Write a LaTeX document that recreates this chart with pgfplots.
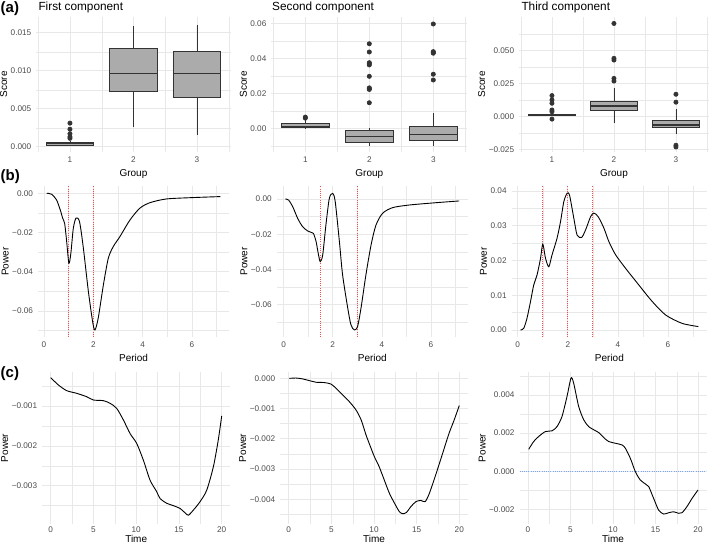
\documentclass[border=0pt]{standalone}
\usepackage{pgfplots}
\pgfplotsset{compat=1.18}
\usepgfplotslibrary{statistics}
\usepackage{fontspec}
\setmainfont{Liberation Sans}
\definecolor{gridc}{RGB}{232,232,232}
\definecolor{tickc}{RGB}{77,77,77}
\definecolor{boxfill}{RGB}{171,171,171}
\definecolor{boxdraw}{RGB}{51,51,51}
\definecolor{hlinec}{RGB}{120,165,245}
\definecolor{vlinec}{RGB}{245,75,75}
\pgfplotsset{
  gg/.style={
    scale only axis,
    scaled x ticks=false, scaled y ticks=false,
    axis line style={draw=none},
    major tick length=0pt, minor tick length=0pt,
    grid=both,
    major grid style={line width=0.7pt, draw=gridc},
    minor grid style={line width=0.35pt, draw=gridc},
    tick label style={font=\fontsize{8.2}{9}\selectfont, text=tickc},
    yticklabel style={xshift=-1.5pt},
    xticklabel style={yshift=-1pt},
    label style={font=\fontsize{10}{12}\selectfont},
    ylabel style={inner sep=1pt, yshift=-1pt},
    anchor=south west,
  },
  ggbox/.style={gg, xmin=0.47, xmax=3.53, xtick={1,2,3}, xticklabels={1,2,3},
    minor xtick={0.5,1.5,2.5,3.5}, xlabel={Group}, ylabel={Score},
    boxplot/draw direction=y,
    boxplot/every median/.style={line width=1.4pt},
    boxplot/box extend=0.75, boxplot/whisker extend=0},
  r3/.style={xticklabel style={yshift=1.5pt}, xlabel style={yshift=4pt}},
  bx/.style={draw=boxdraw, fill=boxfill, line width=0.7pt, mark=*, mark size=2.1pt,
    mark options={draw=boxdraw, fill=boxdraw}},
  curve/.style={draw=black, line width=0.9pt, smooth, tension=0.45},
  vred/.style={draw=vlinec, line width=1.1pt, dash pattern=on 1pt off 1.2pt},
  hblue/.style={draw=hlinec, line width=1.1pt, dash pattern=on 1pt off 1.2pt},
}
\begin{document}
\begin{tikzpicture}
\path[use as bounding box] (0,0) rectangle (709pt,545pt);
% ---------------- row (a)  (scores below are given in units of 0.001)
\node[anchor=base west, inner sep=0, font=\bfseries\fontsize{15}{15}\selectfont] at (0.5pt,532.5pt) {(a)};
\node[anchor=base west, inner sep=0, font=\fontsize{11.8}{12}\selectfont] at (38.3pt,534.3pt) {First component};
\node[anchor=base west, inner sep=0, font=\fontsize{11.8}{12}\selectfont] at (272pt,534.3pt) {Second component};
\node[anchor=base west, inner sep=0, font=\fontsize{11.8}{12}\selectfont] at (521.3pt,534.3pt) {Third component};

\begin{axis}[ggbox, at={(36.3pt,393pt)}, width=194.3pt, height=135pt,
  ymin=-0.697, ymax=17.066, ytick={0,5,10,15},
  yticklabels={0.000,0.005,0.010,0.015}, minor ytick={2.5,7.5,12.5}]
\addplot[bx, boxplot prepared={draw position=1, lower whisker=0.1, lower quartile=0.2, median=0.4, upper quartile=0.6, upper whisker=0.8}]
  table[row sep=\\, y index=0] {data\\ 1.1\\ 1.3\\ 1.7\\ 2.3\\ 3.1\\};
\addplot[bx, boxplot prepared={draw position=2, lower whisker=2.6, lower quartile=7.3, median=9.65, upper quartile=12.96, upper whisker=15.9}]
  coordinates {};
\addplot[bx, boxplot prepared={draw position=3, lower whisker=1.5, lower quartile=6.5, median=9.6, upper quartile=12.5, upper whisker=16.0}]
  coordinates {};
\end{axis}

\begin{axis}[ggbox, at={(271.4pt,393pt)}, width=195.8pt, height=135pt,
  ymin=-13.54, ymax=63.6, ytick={0,20,40,60},
  yticklabels={0.00,0.02,0.04,0.06}, minor ytick={-10,10,30,50}]
\addplot[bx, boxplot prepared={draw position=1, lower whisker=0.0, lower quartile=0.3, median=0.9, upper quartile=2.9, upper whisker=4.5}]
  table[row sep=\\, y index=0] {data\\ 5.8\\ 6.4\\};
\addplot[bx, boxplot prepared={draw position=2, lower whisker=-9.9, lower quartile=-8, median=-4.8, upper quartile=-1, upper whisker=0.4}]
  table[row sep=\\, y index=0] {data\\ 14.6\\ 22.2\\ 22.6\\ 23.1\\ 29.7\\ 36.2\\ 36.8\\ 37.5\\ 43.6\\ 48.3\\};
\addplot[bx, boxplot prepared={draw position=3, lower whisker=-9.9, lower quartile=-6.7, median=-3.4, upper quartile=0.9, upper whisker=8.6}]
  table[row sep=\\, y index=0] {data\\ 27.6\\ 30.9\\ 42.9\\ 43.4\\ 43.8\\ 59.6\\};
\end{axis}

\begin{axis}[ggbox, at={(519.1pt,393pt)}, width=189.7pt, height=135pt,
  ymin=-26.7, ymax=75.5, ytick={-25,0,25,50},
  yticklabels={−0.025,0.000,0.025,0.050}, minor ytick={-12.5,12.5,37.5,62.5}]
\addplot[bx, boxplot prepared={draw position=1, lower whisker=0.2, lower quartile=1, median=1.5, upper quartile=2, upper whisker=3}]
  table[row sep=\\, y index=0] {data\\ -1.8\\ 3.8\\ 5.1\\ 10.2\\ 12.7\\ 16\\};
\addplot[bx, boxplot prepared={draw position=2, lower whisker=-5, lower quartile=4.6, median=8.1, upper quartile=11.7, upper whisker=21.5}]
  table[row sep=\\, y index=0] {data\\ 27\\ 29\\ 42.9\\ 44.2\\ 70.6\\};
\addplot[bx, boxplot prepared={draw position=3, lower whisker=-13.4, lower quartile=-8.4, median=-6.3, upper quartile=-3, upper whisker=5.6}]
  table[row sep=\\, y index=0] {data\\ -22.9\\ -21.6\\ 11\\ 17\\};
\end{axis}

% ---------------- row (b)
\node[anchor=base west, inner sep=0, font=\bfseries\fontsize{15}{15}\selectfont] at (0.5pt,364.5pt) {(b)};

\begin{axis}[gg, at={(38pt,208pt)}, width=191.1pt, height=151pt,
  xmin=-0.243, xmax=7.51, xtick={0,2,4,6}, xticklabels={0,2,4,6}, minor xtick={1,3,5,7},
  ymin=-0.0733, ymax=0.0037, ytick={-0.06,-0.04,-0.02,0}, yticklabels={−0.06,−0.04,−0.02,0.00},
  minor ytick={-0.07,-0.05,-0.03,-0.01}, xlabel={Period}, ylabel={Power}]
\addplot[vred] coordinates {(1,-0.0733) (1,0.0037)};
\addplot[vred] coordinates {(2,-0.0733) (2,0.0037)};
\addplot[curve] coordinates {(0.11,0) (0.31,-0.0005) (0.51,-0.0034) (0.66,-0.0085) (0.76,-0.0128) (0.84,-0.0155) (0.92,-0.0246) (1.01,-0.0357) (1.09,-0.0306) (1.19,-0.0178) (1.3,-0.0127) (1.44,-0.0144) (1.59,-0.0272) (1.80,-0.050) (1.98,-0.066) (2.07,-0.0697) (2.2,-0.0637) (2.41,-0.0467) (2.61,-0.0331) (2.81,-0.0272) (3.08,-0.0221) (3.49,-0.0136) (3.89,-0.0076) (4.30,-0.0048) (4.97,-0.0029) (6.05,-0.0022) (7.16,-0.0017)};
\end{axis}

\begin{axis}[gg, at={(276.7pt,208pt)}, width=191.2pt, height=151pt,
  xmin=-0.284, xmax=7.504, xtick={0,2,4,6}, xticklabels={0,2,4,6}, minor xtick={1,3,5,7},
  ymin=-0.0784, ymax=0.0074, ytick={-0.06,-0.04,-0.02,0}, yticklabels={−0.06,−0.04,−0.02,0.00},
  minor ytick={-0.07,-0.05,-0.03,-0.01}, xlabel={Period}, ylabel={Power}]
\addplot[vred] coordinates {(1.5,-0.0784) (1.5,0.0074)};
\addplot[vred] coordinates {(3,-0.0784) (3,0.0074)};
\addplot[curve] coordinates {(0.07,0) (0.2,-0.0006) (0.37,-0.0044) (0.57,-0.011) (0.77,-0.0157) (0.98,-0.0182) (1.11,-0.0189) (1.21,-0.0195) (1.32,-0.0242) (1.42,-0.0318) (1.49,-0.0356) (1.59,-0.0318) (1.72,-0.0148) (1.86,0.0004) (2.0,0.0032) (2.1,-0.0015) (2.27,-0.0242) (2.40,-0.0431) (2.61,-0.062) (2.74,-0.0715) (2.88,-0.0744) (3.01,-0.0725) (3.15,-0.062) (3.35,-0.0431) (3.56,-0.0261) (3.76,-0.0148) (4.03,-0.0081) (4.44,-0.0049) (5.12,-0.0034) (6.2,-0.0021) (7.15,-0.0011)};
\end{axis}

\begin{axis}[gg, at={(511.6pt,208pt)}, width=195.6pt, height=151pt,
  xmin=-0.245, xmax=7.565, xtick={0,2,4,6}, xticklabels={0,2,4,6}, minor xtick={1,3,5,7},
  ymin=-0.002, ymax=0.0414, ytick={0,0.01,0.02,0.03,0.04}, yticklabels={0.00,0.01,0.02,0.03,0.04},
  minor ytick={0.005,0.015,0.025,0.035}, xlabel={Period}, ylabel={Power}]
\addplot[vred] coordinates {(1,-0.002) (1,0.0414)};
\addplot[vred] coordinates {(2,-0.002) (2,0.0414)};
\addplot[vred] coordinates {(3,-0.002) (3,0.0414)};
\addplot[curve] coordinates {(0.11,0) (0.24,0.0005) (0.37,0.0034) (0.51,0.0082) (0.64,0.013) (0.77,0.0158) (0.91,0.0206) (1.0,0.0247) (1.11,0.0206) (1.24,0.0182) (1.37,0.0216) (1.57,0.0264) (1.71,0.0312) (1.84,0.0369) (1.97,0.0393) (2.07,0.0387) (2.24,0.0321) (2.37,0.0273) (2.55,0.0266) (2.71,0.0288) (2.91,0.0326) (3.04,0.0336) (3.21,0.0326) (3.44,0.0293) (3.64,0.0254) (3.91,0.0216) (4.31,0.0177) (4.84,0.0129) (5.37,0.0082) (5.91,0.0043) (6.57,0.0019) (7.21,0.001)};
\end{axis}

% ---------------- row (c)
\node[anchor=base west, inner sep=0, font=\bfseries\fontsize{15}{15}\selectfont] at (0.5pt,167.3pt) {(c)};

\begin{axis}[gg, r3, at={(42.15pt,21pt)}, width=188.1pt, height=152pt,
  xmin=-1, xmax=21, xtick={0,5,10,15,20}, xticklabels={0,5,10,15,20}, minor xtick={2.5,7.5,12.5,17.5},
  ymin=-0.00396, ymax=-0.000147, ytick={-0.003,-0.002,-0.001}, yticklabels={−0.003,−0.002,−0.001},
  minor ytick={-0.0035,-0.0025,-0.0015,-0.0005}, xlabel={Time}, ylabel={Power}]
\addplot[curve] coordinates {(0,-0.000289) (0.9,-0.000473) (1.87,-0.000615) (3.04,-0.000682) (4.2,-0.000766) (5,-0.00085) (6.16,-0.000866) (6.94,-0.000933) (7.72,-0.00106) (8.5,-0.00135) (9.28,-0.00169) (10.06,-0.00194) (10.84,-0.00236) (11.62,-0.00286) (12.4,-0.00315) (12.79,-0.00332) (13.57,-0.00344) (14.35,-0.0035) (15.13,-0.00357) (15.71,-0.00368) (16.1,-0.00374) (16.69,-0.00361) (17.47,-0.0034) (18.25,-0.00311) (19.03,-0.00252) (19.6,-0.00185) (20.0,-0.00125)};
\end{axis}

\begin{axis}[gg, r3, at={(280.2pt,21pt)}, width=187.6pt, height=152pt,
  xmin=-1, xmax=21, xtick={0,5,10,15,20}, xticklabels={0,5,10,15,20}, minor xtick={2.5,7.5,12.5,17.5},
  ymin=-0.00482, ymax=0.00021, ytick={-0.004,-0.003,-0.002,-0.001,0}, yticklabels={−0.004,−0.003,−0.002,−0.001,0.000},
  minor ytick={-0.0045,-0.0035,-0.0025,-0.0015,-0.0005}, xlabel={Time}, ylabel={Power}]
\addplot[curve] coordinates {(0.08,0) (0.86,0.00001) (1.64,-0.00002) (2.62,-0.00009) (3.2,-0.00013) (4.18,-0.00014) (4.96,-0.00019) (5.55,-0.00033) (6.33,-0.00055) (7.1,-0.00077) (7.9,-0.00105) (8.5,-0.00138) (9.06,-0.00187) (9.65,-0.00231) (10.04,-0.00259) (10.6,-0.00292) (11.2,-0.00336) (11.8,-0.0038) (12.4,-0.00413) (12.97,-0.00441) (13.36,-0.00448) (13.8,-0.00444) (14.34,-0.00424) (14.92,-0.00408) (15.5,-0.00404) (16.0,-0.00408) (16.5,-0.0038) (17.3,-0.00314) (18.05,-0.00248) (18.8,-0.00182) (19.4,-0.00138) (20,-0.0009)};
\end{axis}

\begin{axis}[gg, r3, at={(519.5pt,21pt)}, width=187pt, height=152pt,
  xmin=-1, xmax=21, xtick={0,5,10,15,20}, xticklabels={0,5,10,15,20}, minor xtick={2.5,7.5,12.5,17.5},
  ymin=-0.00276, ymax=0.0052, ytick={-0.002,0,0.002,0.004}, yticklabels={−0.002,0.000,0.002,0.004},
  minor ytick={-0.001,0.001,0.003,0.005}, xlabel={Time}, ylabel={Power}]
\addplot[hblue] coordinates {(-1,0) (21,0)};
\addplot[curve] coordinates {(0.08,0.00115) (0.67,0.00156) (1.25,0.00182) (2.04,0.00208) (2.82,0.00212) (3.41,0.00234) (4.0,0.00287) (4.59,0.00392) (5.06,0.00488) (5.37,0.00462) (5.96,0.0034) (6.55,0.0027) (7.14,0.00234) (7.92,0.00213) (8.31,0.00203) (8.9,0.00177) (9.49,0.00156) (10.27,0.00147) (11.06,0.00138) (11.45,0.00121) (12.04,0.00068) (12.63,-0.00002) (13.2,-0.00045) (13.8,-0.00066) (14.2,-0.0008) (14.78,-0.00142) (15.37,-0.00203) (15.96,-0.00224) (16.55,-0.00217) (17.14,-0.00212) (17.73,-0.0022) (18.12,-0.00217) (18.7,-0.00185) (19.3,-0.00142) (20,-0.00098)};
\end{axis}
\end{tikzpicture}
\end{document}
